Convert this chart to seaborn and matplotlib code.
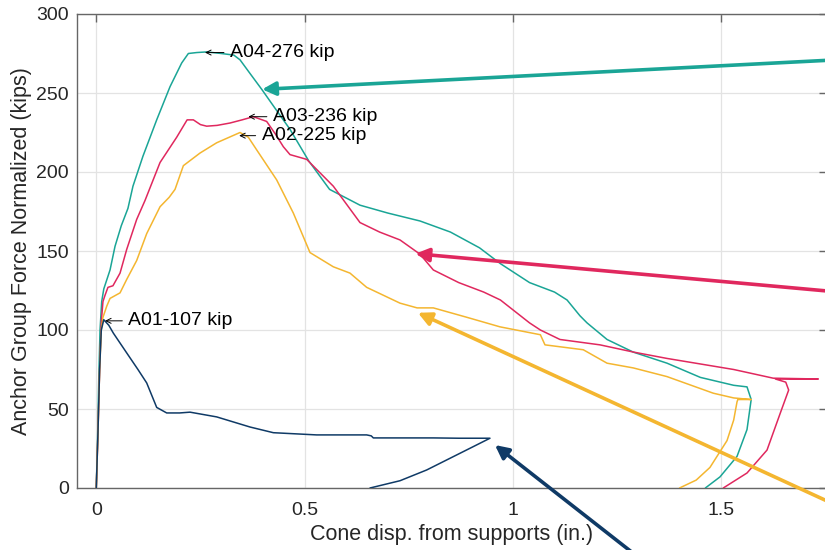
import matplotlib
matplotlib.use("Agg")
import matplotlib.pyplot as plt
import seaborn as sns
import pandas as pd

# ---------------- data ----------------
a04_x = [0, 0.003, 0.006, 0.009, 0.013, 0.018, 0.033, 0.045, 0.06, 0.076, 0.088, 0.112, 0.145,
         0.177, 0.205, 0.221, 0.241, 0.265, 0.30, 0.33, 0.345, 0.37, 0.398, 0.43, 0.465, 0.51,
         0.56, 0.633, 0.70, 0.777, 0.85, 0.92, 0.97, 1.04, 1.10, 1.13, 1.161, 1.178, 1.226,
         1.289, 1.37, 1.45, 1.53, 1.562, 1.572, 1.562, 1.538, 1.497, 1.462]
a04_y = [0, 30, 70, 100, 118, 126, 138, 153, 166, 177, 191, 210, 233,
         254, 269, 275, 275.6, 276, 275, 274, 271, 262, 252, 240, 227, 207,
         189, 179, 174, 169, 162, 152, 142, 130, 124, 119, 109, 104.5, 94,
         86, 79, 70, 65, 64, 56, 37, 20, 7, 0]

a03_x = [0, 0.004, 0.008, 0.012, 0.016, 0.021, 0.028, 0.04, 0.057, 0.073, 0.097, 0.117, 0.153,
         0.193, 0.218, 0.233, 0.25, 0.265, 0.29, 0.321, 0.35, 0.377, 0.409, 0.43, 0.449, 0.465,
         0.505, 0.569, 0.633, 0.68, 0.729, 0.777, 0.809, 0.87, 0.93, 0.97, 1.04, 1.066, 1.113,
         1.209, 1.29, 1.37, 1.45, 1.53, 1.625, 1.733, 1.63, 1.655, 1.662, 1.642, 1.61, 1.562, 1.505]
a03_y = [0, 35, 75, 105, 118, 122, 127, 128, 136, 151, 170, 182, 206,
         222, 233, 233, 230, 229, 229.5, 231, 233, 235, 232, 224, 216, 211,
         208, 191, 168, 162, 157, 148, 138, 130, 124, 119, 104.5, 100, 94,
         90.6, 86, 82, 78.5, 75, 69.5, 69, 69, 67, 62, 47.5, 24, 9.5, 0]

a02_x = [0, 0.004, 0.008, 0.012, 0.016, 0.025, 0.033, 0.057, 0.073, 0.097, 0.121, 0.153, 0.175,
         0.189, 0.209, 0.249, 0.289, 0.345, 0.365, 0.385, 0.433, 0.473, 0.513, 0.569, 0.609,
         0.649, 0.729, 0.77, 0.809, 0.89, 0.969, 1.066, 1.077, 1.169, 1.226, 1.289, 1.37, 1.481,
         1.53, 1.572, 1.54, 1.538, 1.53, 1.514, 1.473, 1.44, 1.4]
a02_y = [0, 35, 75, 100, 108, 115, 120, 123.5, 132, 144, 161, 178, 184,
         189, 204, 212, 218.5, 225, 222, 214, 195, 174, 149, 140, 136,
         127, 117, 114, 114, 108, 102, 97, 90.6, 87.5, 79, 76, 70.5, 60,
         57, 56, 56, 54.5, 43, 30, 13, 5, 0]

a01_x = [0, 0.004, 0.008, 0.012, 0.018, 0.03, 0.041, 0.073, 0.1, 0.121, 0.145, 0.169, 0.2,
         0.225, 0.289, 0.369, 0.425, 0.529, 0.649, 0.66, 0.665, 0.777, 0.809, 0.87, 0.945,
         0.905, 0.849, 0.793, 0.729, 0.657]
a01_y = [0, 35, 75, 100, 106.5, 103, 98, 85.5, 75, 66.5, 51, 47.5, 47.5,
         48, 45, 38.6, 35, 33.6, 33.6, 33, 31.7, 31.7, 31.7, 31.5, 31.5,
         26.2, 18.8, 11.4, 4.6, 0]

specimens = ["A04", "A03", "A02", "A01"]
peaks = [276, 236, 225, 107]
peak_x = [0.261, 0.365, 0.343, 0.021]
peak_y = [275.6, 235, 223, 105.8]
colors = ["#1aa596", "#e0285e", "#f4b630", "#0f3a66"]

x_ticks = [0, 0.5, 1, 1.5]
y_ticks = [0, 50, 100, 150, 200, 250, 300]

# long call-out arrows: (head x, head y, tail x, tail y)
callout_head_x = [0.398, 0.766, 0.772, 0.957]
callout_head_y = [252.3, 148.3, 110.9, 27.2]
callout_tail_x = [1.80, 1.80, 1.80, 1.285]
callout_tail_y = [271.3, 123.6, -13.8, -40.5]

# ---------------- frame ----------------
frames = []
for name, xs, ys in zip(specimens, [a04_x, a03_x, a02_x, a01_x], [a04_y, a03_y, a02_y, a01_y]):
    frames.append(pd.DataFrame({"disp": xs, "force": ys, "spec": name}))
df = pd.concat(frames, ignore_index=True)

sns.set_theme(style="white")
plt.rcParams["font.family"] = ["Liberation Sans", "DejaVu Sans"]

fig = plt.figure(figsize=(8.25, 5.5), dpi=100)
ax = fig.add_axes([77 / 825, 62 / 550, 750 / 825, 474 / 550])

sns.lineplot(data=df, x="disp", y="force", hue="spec", units="spec", estimator=None,
             sort=False, palette=dict(zip(specimens, colors)), linewidth=1.1,
             legend=False, ax=ax, zorder=3)

ax.set_xlim(-0.0463, 1.754)
ax.set_ylim(0, 300)
ax.set_xticks(x_ticks)
ax.set_xticklabels(["0", "0.5", "1", "1.5"])
ax.set_yticks(y_ticks)
ax.grid(True, color="#e3e3e3", linewidth=0.9, zorder=0)
ax.set_axisbelow(True)
for s in ax.spines.values():
    s.set_color("#666666")
    s.set_linewidth(1.0)
ax.tick_params(axis="both", direction="in", length=5.5, width=1, color="#666666",
               labelsize=14, labelcolor="#262626", top=True, right=True)
ax.tick_params(axis="x", pad=10)
ax.tick_params(axis="y", pad=6)
ax.set_xlabel("Cone disp. from supports (in.)", fontsize=15.5, color="#262626", labelpad=4)
ax.set_ylabel("Anchor Group Force Normalized (kips)", fontsize=15.5, color="#262626", labelpad=3)

# peak labels
text_x = [0.321, 0.424, 0.397, 0.077]
for name, pk, px, py, tx in zip(specimens, peaks, peak_x, peak_y, text_x):
    ax.annotate(f"{name}-{pk} kip", xy=(px, py), xytext=(tx, py), fontsize=14,
                va="center", ha="left", color="black", zorder=5,
                arrowprops=dict(arrowstyle="->", lw=0.7, color="black",
                                shrinkA=2, shrinkB=0, mutation_scale=9))

# long call-out arrows
for hx, hy, tx, ty, c in zip(callout_head_x, callout_head_y, callout_tail_x, callout_tail_y, colors):
    ax.annotate("", xy=(hx, hy), xytext=(tx, ty), annotation_clip=False, zorder=6,
                arrowprops=dict(arrowstyle="-|>", lw=2.6, color=c, mutation_scale=20,
                                shrinkA=0, shrinkB=0))

fig.savefig("out.png", dpi=100)
